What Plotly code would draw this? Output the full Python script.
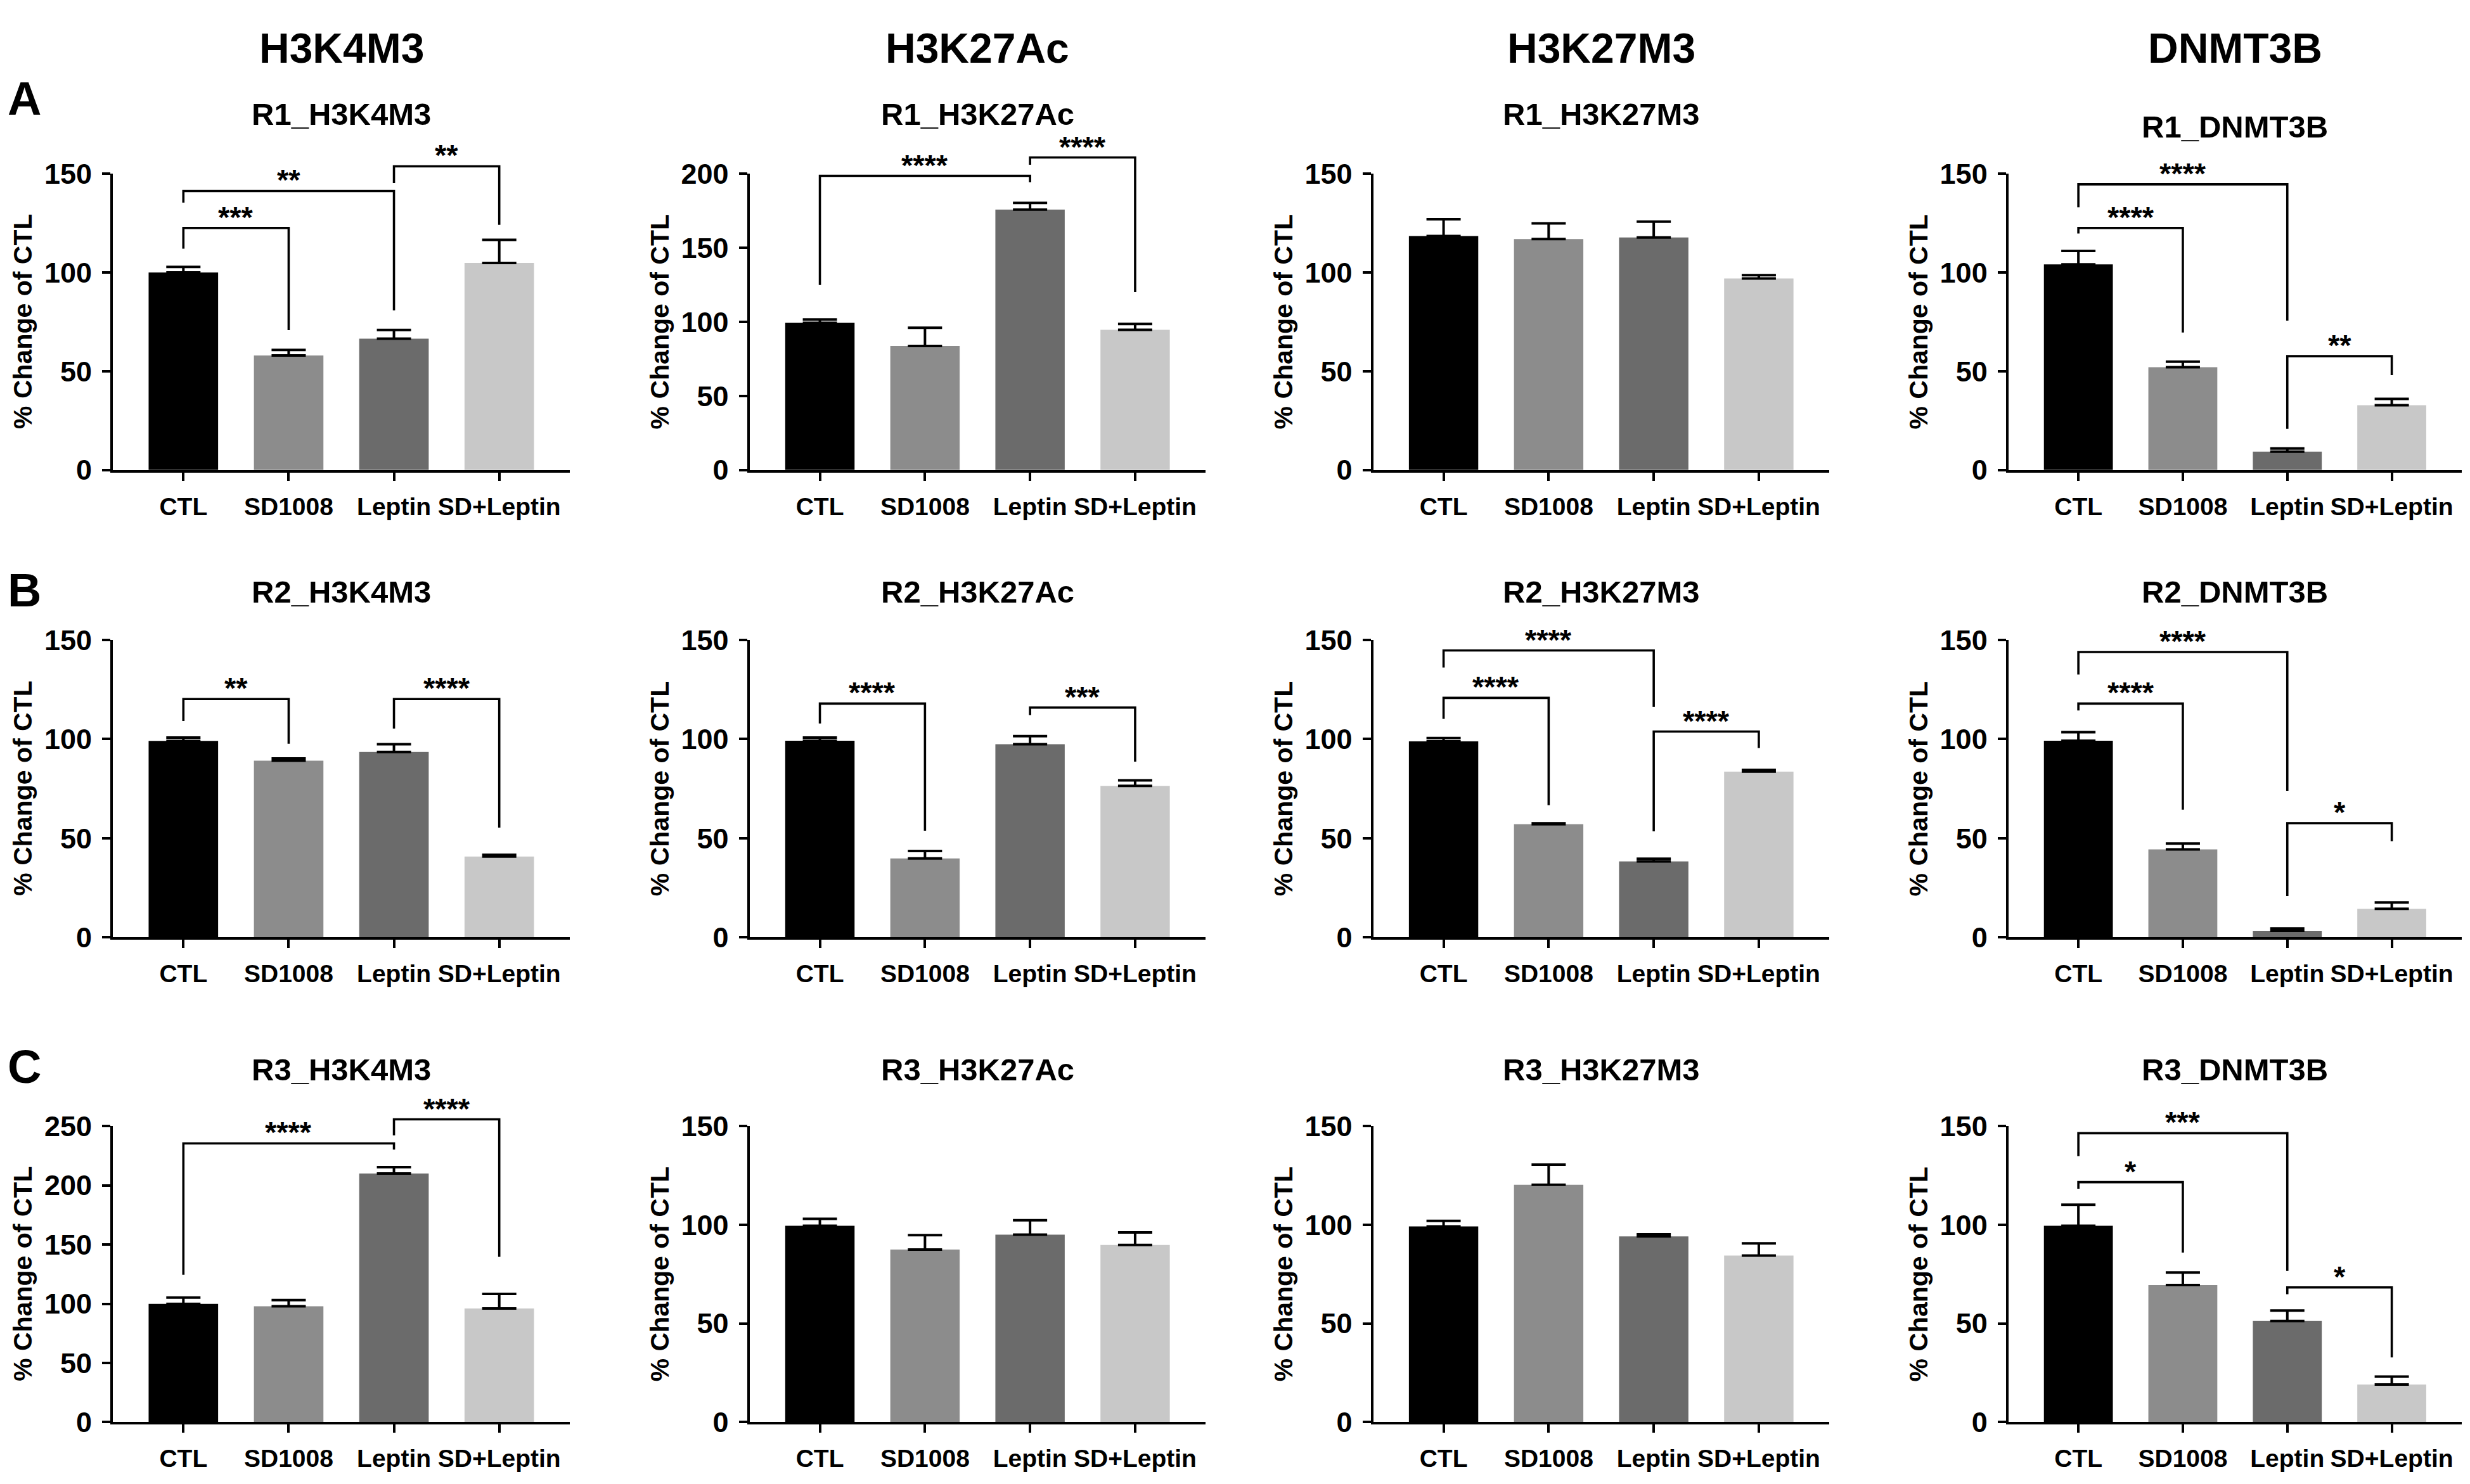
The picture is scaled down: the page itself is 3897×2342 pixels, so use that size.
import plotly.graph_objects as go

W, H = 3897, 2342

# ---------------- data ----------------
categories = ["CTL", "SD1008", "Leptin", "SD+Leptin"]
bar_colors = ["#000000", "#8c8c8c", "#6b6b6b", "#c8c8c8"]
column_headers = ["H3K4M3", "H3K27Ac", "H3K27M3", "DNMT3B"]
row_letters = ["A", "B", "C"]
y_title = "% Change of CTL"

panel_titles = [
    ["R1_H3K4M3", "R1_H3K27Ac", "R1_H3K27M3", "R1_DNMT3B"],
    ["R2_H3K4M3", "R2_H3K27Ac", "R2_H3K27M3", "R2_DNMT3B"],
    ["R3_H3K4M3", "R3_H3K27Ac", "R3_H3K27M3", "R3_DNMT3B"],
]
y_max = [[150, 200, 150, 150], [150, 150, 150, 150], [250, 150, 150, 150]]

# means and (upper) SEM per panel
r1_h3k4m3_mean = [100.0, 58.0, 66.5, 104.8]
r1_h3k4m3_sem = [2.8, 2.8, 4.4, 11.7]
r1_h3k27ac_mean = [99.3, 83.7, 175.7, 94.6]
r1_h3k27ac_sem = [2.3, 12.3, 4.5, 4.0]
r1_h3k27m3_mean = [118.4, 116.9, 117.7, 96.9]
r1_h3k27m3_sem = [8.5, 7.9, 8.0, 1.7]
r1_dnmt3b_mean = [104.1, 52.0, 9.3, 32.8]
r1_dnmt3b_sem = [6.8, 2.8, 1.6, 3.2]

r2_h3k4m3_mean = [99.1, 89.1, 93.5, 40.8]
r2_h3k4m3_sem = [1.7, 1.1, 3.9, 0.9]
r2_h3k27ac_mean = [99.2, 39.8, 97.4, 76.4]
r2_h3k27ac_sem = [1.6, 3.8, 4.1, 2.8]
r2_h3k27m3_mean = [98.9, 57.1, 38.3, 83.6]
r2_h3k27m3_sem = [1.6, 0.5, 1.4, 0.9]
r2_dnmt3b_mean = [99.2, 44.4, 3.3, 14.4]
r2_dnmt3b_sem = [4.3, 2.9, 1.2, 3.2]

r3_h3k4m3_mean = [99.9, 97.9, 210.0, 96.0]
r3_h3k4m3_sem = [5.3, 5.2, 5.3, 12.3]
r3_h3k27ac_mean = [99.5, 87.5, 95.0, 89.8]
r3_h3k27ac_sem = [3.5, 7.3, 7.3, 6.3]
r3_h3k27m3_mean = [99.2, 120.3, 94.1, 84.4]
r3_h3k27m3_sem = [2.8, 10.2, 1.1, 6.2]
r3_dnmt3b_mean = [99.5, 69.5, 51.3, 19.1]
r3_dnmt3b_sem = [10.7, 6.3, 5.3, 4.0]

means = [
    [r1_h3k4m3_mean, r1_h3k27ac_mean, r1_h3k27m3_mean, r1_dnmt3b_mean],
    [r2_h3k4m3_mean, r2_h3k27ac_mean, r2_h3k27m3_mean, r2_dnmt3b_mean],
    [r3_h3k4m3_mean, r3_h3k27ac_mean, r3_h3k27m3_mean, r3_dnmt3b_mean],
]
sems = [
    [r1_h3k4m3_sem, r1_h3k27ac_sem, r1_h3k27m3_sem, r1_dnmt3b_sem],
    [r2_h3k4m3_sem, r2_h3k27ac_sem, r2_h3k27m3_sem, r2_dnmt3b_sem],
    [r3_h3k4m3_sem, r3_h3k27ac_sem, r3_h3k27m3_sem, r3_dnmt3b_sem],
]

# significance brackets: (group i, group j, bracket level, left leg end, right leg end, label)
brackets = {
    (0, 0): [(0, 1, 122.5, 112.0, 70.8, "***"), (0, 2, 141.2, 135.3, 80.8, "**"), (2, 3, 153.7, 145.2, 124.1, "**")],
    (0, 1): [(0, 2, 198.5, 124.9, 194.2, "****"), (2, 3, 210.9, 206.0, 120.0, "****")],
    (0, 3): [(0, 1, 122.5, 119.7, 69.6, "****"), (0, 2, 144.6, 132.9, 75.6, "****"), (2, 3, 57.6, 20.8, 48.0, "**")],
    (1, 0): [(0, 1, 120.2, 109.1, 97.7, "**"), (2, 3, 120.2, 105.3, 55.3, "****")],
    (1, 1): [(0, 1, 117.9, 107.9, 53.8, "****"), (2, 3, 115.9, 112.1, 88.6, "***")],
    (1, 2): [(0, 1, 120.8, 110.2, 66.7, "****"), (0, 2, 144.7, 136.1, 116.2, "****"), (2, 3, 103.8, 53.5, 95.5, "****")],
    (1, 3): [(0, 1, 117.9, 114.4, 64.4, "****"), (0, 2, 143.9, 132.6, 73.9, "****"), (2, 3, 57.6, 20.9, 48.5, "*")],
    (2, 0): [(0, 2, 235.4, 124.5, 230.2, "****"), (2, 3, 255.7, 242.2, 139.6, "****")],
    (2, 3): [(0, 1, 121.6, 118.3, 85.9, "*"), (0, 2, 146.4, 134.8, 76.6, "***"), (2, 3, 68.3, 64.8, 32.8, "*")],
}

# ---------------- layout geometry (pixels) ----------------
col_x = [(170, 891), (1174.5, 1894), (2158.5, 2878), (3160.7, 3876)]
row_y = [(246.4, 724.5), (998.7, 1478.6), (1783, 2260.7)]
title_y = [[150, 150, 150, 171], [921, 921, 921, 921], [1692, 1692, 1692, 1692]]
letter_y = [125, 919, 1687]
letter_x = 31
header_y = 44
ext_px = 80

FONT = "Liberation Sans, Arial, Helvetica, sans-serif"
LW = 4


def sfx(n):
    return "" if n == 1 else str(n)


fig = go.Figure()
layout = dict(
    width=W, height=H, margin=dict(l=0, r=0, t=0, b=0),
    paper_bgcolor="white", plot_bgcolor="rgba(0,0,0,0)", showlegend=False,
    font=dict(family=FONT, color="black"),
)
annotations = []

for r in range(3):
    for c in range(4):
        k = r * 4 + c + 1
        kb = 12 + k
        xs, ys, ysb = sfx(k), sfx(k), sfx(kb)
        x0, x1 = col_x[c]
        ytop, ybot = row_y[r]
        ymx = y_max[r][c]
        xd = [x0 / W, x1 / W]
        yd = [1 - ybot / H, 1 - ytop / H]
        ext_top = ytop - ext_px
        ydb = [1 - ybot / H, 1 - ext_top / H]
        ymx_b = ymx * (ybot - ext_top) / (ybot - ytop)

        layout[f"xaxis{xs}"] = dict(
            domain=xd, anchor=f"y{ys}", range=[-0.67, 3.67],
            tickvals=[0, 1, 2, 3], ticktext=categories,
            ticks="outside", ticklen=13, tickwidth=LW, tickcolor="black",
            showline=True, linewidth=LW, linecolor="black",
            showgrid=False, zeroline=False, fixedrange=True,
            tickfont=dict(size=39, family=FONT, weight="bold", color="black"),
            ticklabelstandoff=7,
        )
        layout[f"yaxis{ys}"] = dict(
            domain=yd, anchor=f"x{xs}", range=[0, ymx],
            tickvals=list(range(0, ymx + 1, 50)),
            ticks="outside", ticklen=13, tickwidth=LW, tickcolor="black",
            showline=True, linewidth=LW, linecolor="black",
            showgrid=False, zeroline=False, fixedrange=True,
            tickfont=dict(size=45, family=FONT, weight="bold", color="black"),
            ticklabelstandoff=7,
        )
        layout[f"yaxis{ysb}"] = dict(
            domain=ydb, anchor=f"x{xs}", range=[0, ymx_b], visible=False,
            showgrid=False, zeroline=False, fixedrange=True,
        )

        fig.add_trace(go.Bar(
            x=[0, 1, 2, 3], y=means[r][c], width=0.66,
            marker=dict(color=bar_colors, line=dict(width=0)),
            error_y=dict(type="data", array=sems[r][c], arrayminus=[0, 0, 0, 0],
                         symmetric=False, color="black", thickness=LW, width=27),
            xaxis=f"x{xs}", yaxis=f"y{ys}", hoverinfo="skip",
        ))

        for (i, j, yb, yl, yr, lab) in brackets.get((r, c), []):
            fig.add_trace(go.Scatter(
                x=[i, i, j, j], y=[yl, yb, yb, yr], mode="lines",
                line=dict(color="black", width=3.6),
                xaxis=f"x{xs}", yaxis=f"y{ysb}", hoverinfo="skip",
            ))
            annotations.append(dict(
                x=(i + j) / 2, y=yb, xref=f"x{xs}", yref=f"y{ysb}",
                text=lab, showarrow=False, xanchor="center", yanchor="bottom",
                yshift=-11, font=dict(size=47, family=FONT, weight="bold"),
            ))

        # panel title
        annotations.append(dict(
            x=0.5, y=1 - title_y[r][c] / H, xref=f"x{xs} domain", yref="paper",
            text=panel_titles[r][c], showarrow=False, xanchor="center", yanchor="middle",
            font=dict(size=49, family=FONT, weight="bold"),
        ))
        # y axis title
        annotations.append(dict(
            x=0, y=0.5, xref=f"x{xs} domain", yref=f"y{ys} domain", xshift=-142,
            text=y_title, showarrow=False, textangle=-90,
            xanchor="center", yanchor="middle",
            font=dict(size=41, family=FONT, weight="bold"),
        ))
        if r == 0:
            annotations.append(dict(
                x=0.5, y=1 - header_y / H, xref=f"x{xs} domain", yref="paper",
                text=column_headers[c], showarrow=False, xanchor="center", yanchor="middle",
                font=dict(size=66, family=FONT, weight="bold"),
            ))

for r in range(3):
    annotations.append(dict(
        x=letter_x / W, y=1 - letter_y[r] / H, xref="paper", yref="paper",
        text=row_letters[r], showarrow=False, xanchor="center", yanchor="middle",
        font=dict(size=74, family=FONT, weight="bold"),
    ))

layout["annotations"] = annotations
fig.update_layout(**layout)
fig.write_html("out.html")
